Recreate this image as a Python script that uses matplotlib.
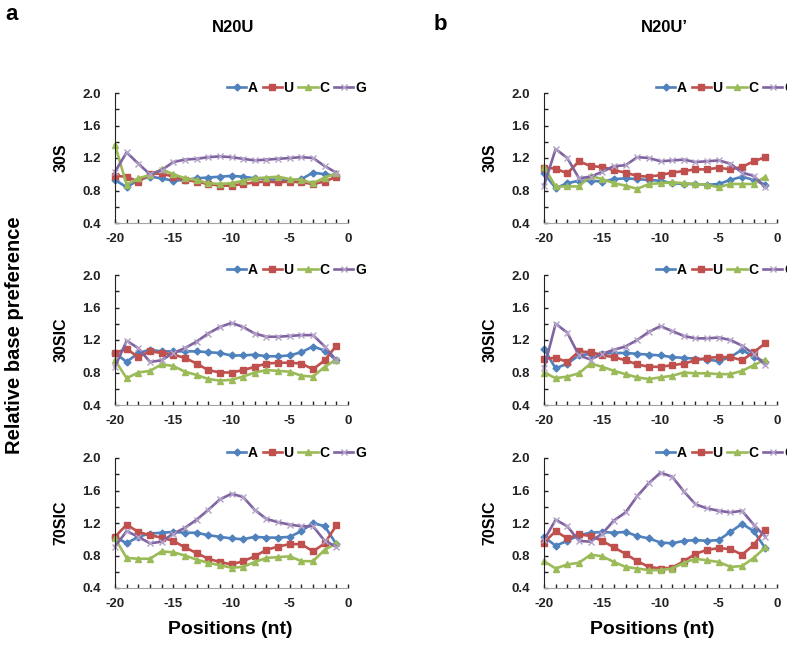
import matplotlib
matplotlib.use("Agg")
import matplotlib.pyplot as plt
from matplotlib.ticker import MultipleLocator

plt.rcParams['font.family'] = ['Liberation Sans', 'DejaVu Sans']
plt.rcParams['font.weight'] = 'bold'
plt.rcParams['axes.unicode_minus'] = False

positions = list(range(-20, 0))
bases = ["A", "U", "C", "G"]
rows = ["30S", "30SIC", "70SIC"]

# N20U (panel a)
a_30S_A = [0.93, 0.84, 0.93, 0.97, 0.95, 0.92, 0.93, 0.95, 0.96, 0.97, 0.98, 0.97, 0.95, 0.94, 0.93, 0.92, 0.94, 1.02, 1.00, 0.98]
a_30S_U = [0.98, 0.97, 0.91, 1.00, 1.01, 0.97, 0.93, 0.91, 0.88, 0.86, 0.86, 0.88, 0.90, 0.91, 0.90, 0.91, 0.90, 0.88, 0.91, 0.97]
a_30S_C = [1.36, 0.87, 0.95, 0.99, 1.06, 1.00, 0.95, 0.93, 0.89, 0.88, 0.89, 0.92, 0.95, 0.96, 0.97, 0.94, 0.93, 0.89, 0.96, 1.01]
a_30S_G = [1.03, 1.27, 1.13, 1.00, 1.05, 1.15, 1.18, 1.19, 1.21, 1.22, 1.21, 1.19, 1.17, 1.18, 1.19, 1.20, 1.21, 1.20, 1.10, 1.02]

a_30SIC_A = [1.04, 0.93, 1.04, 1.08, 1.06, 1.06, 1.06, 1.06, 1.05, 1.04, 1.01, 1.01, 1.02, 1.00, 1.00, 1.01, 1.05, 1.12, 1.07, 0.95]
a_30SIC_U = [1.04, 1.09, 0.99, 1.06, 1.04, 1.02, 0.98, 0.91, 0.83, 0.80, 0.80, 0.83, 0.87, 0.91, 0.92, 0.92, 0.91, 0.84, 0.95, 1.13]
a_30SIC_C = [0.95, 0.73, 0.80, 0.82, 0.90, 0.88, 0.81, 0.77, 0.72, 0.70, 0.71, 0.75, 0.80, 0.83, 0.82, 0.81, 0.76, 0.75, 0.87, 0.96]
a_30SIC_G = [0.87, 1.19, 1.10, 0.93, 0.95, 1.04, 1.10, 1.18, 1.28, 1.36, 1.41, 1.36, 1.28, 1.24, 1.24, 1.25, 1.26, 1.26, 1.12, 0.95]

a_70SIC_A = [1.03, 0.95, 1.03, 1.07, 1.08, 1.09, 1.08, 1.08, 1.05, 1.03, 1.01, 1.00, 1.03, 1.02, 1.02, 1.03, 1.10, 1.20, 1.16, 0.94]
a_70SIC_U = [1.03, 1.18, 1.09, 1.05, 1.02, 0.98, 0.90, 0.83, 0.76, 0.72, 0.69, 0.73, 0.79, 0.87, 0.91, 0.94, 0.94, 0.85, 0.95, 1.17]
a_70SIC_C = [1.01, 0.77, 0.76, 0.76, 0.85, 0.84, 0.80, 0.75, 0.71, 0.68, 0.65, 0.66, 0.72, 0.77, 0.78, 0.79, 0.73, 0.73, 0.87, 0.95]
a_70SIC_G = [0.91, 1.10, 1.03, 0.95, 0.97, 1.07, 1.14, 1.24, 1.36, 1.49, 1.56, 1.52, 1.36, 1.25, 1.21, 1.18, 1.16, 1.16, 0.98, 0.91]

# N20U' (panel b)
b_30S_A = [1.01, 0.83, 0.89, 0.92, 0.92, 0.91, 0.94, 0.95, 0.94, 0.93, 0.92, 0.89, 0.88, 0.88, 0.87, 0.88, 0.93, 0.97, 0.93, 0.87]
b_30S_U = [1.08, 1.07, 1.01, 1.16, 1.10, 1.09, 1.05, 1.02, 0.98, 0.97, 0.99, 1.02, 1.04, 1.06, 1.06, 1.08, 1.06, 1.09, 1.16, 1.21]
b_30S_C = [1.09, 0.85, 0.85, 0.85, 0.98, 0.94, 0.89, 0.86, 0.82, 0.88, 0.89, 0.90, 0.89, 0.88, 0.87, 0.84, 0.88, 0.88, 0.88, 0.97]
b_30S_G = [0.86, 1.31, 1.20, 0.95, 0.97, 1.03, 1.10, 1.11, 1.21, 1.20, 1.16, 1.17, 1.18, 1.15, 1.16, 1.17, 1.13, 1.02, 0.98, 0.84]

b_30SIC_A = [1.09, 0.85, 0.91, 1.01, 1.03, 1.03, 1.04, 1.04, 1.03, 1.02, 1.01, 0.99, 0.98, 0.97, 0.96, 0.94, 0.99, 1.08, 0.99, 0.93]
b_30SIC_U = [0.97, 0.98, 0.93, 1.06, 1.05, 1.01, 0.99, 0.95, 0.90, 0.87, 0.87, 0.89, 0.91, 0.95, 0.98, 0.99, 0.99, 0.95, 1.05, 1.16]
b_30SIC_C = [0.80, 0.73, 0.75, 0.79, 0.91, 0.87, 0.82, 0.78, 0.74, 0.72, 0.74, 0.76, 0.80, 0.79, 0.79, 0.78, 0.78, 0.82, 0.89, 0.96]
b_30SIC_G = [0.85, 1.40, 1.29, 1.01, 0.96, 1.03, 1.08, 1.12, 1.20, 1.30, 1.37, 1.31, 1.25, 1.22, 1.22, 1.23, 1.20, 1.13, 1.03, 0.89]

b_70SIC_A = [1.03, 0.92, 0.98, 1.05, 1.08, 1.09, 1.08, 1.09, 1.04, 1.01, 0.96, 0.95, 0.98, 0.99, 0.98, 0.99, 1.09, 1.19, 1.10, 0.89]
b_70SIC_U = [0.96, 1.10, 1.01, 1.06, 1.04, 0.98, 0.90, 0.82, 0.73, 0.66, 0.64, 0.65, 0.73, 0.82, 0.87, 0.89, 0.88, 0.81, 0.93, 1.12]
b_70SIC_C = [0.73, 0.64, 0.69, 0.71, 0.81, 0.79, 0.72, 0.66, 0.64, 0.62, 0.62, 0.64, 0.71, 0.76, 0.74, 0.72, 0.66, 0.67, 0.77, 0.90]
b_70SIC_G = [0.99, 1.24, 1.16, 0.98, 0.97, 1.07, 1.23, 1.33, 1.53, 1.69, 1.82, 1.77, 1.59, 1.43, 1.38, 1.35, 1.33, 1.35, 1.18, 1.03]

PANELS = {
    "a": [[a_30S_A, a_30S_U, a_30S_C, a_30S_G],
          [a_30SIC_A, a_30SIC_U, a_30SIC_C, a_30SIC_G],
          [a_70SIC_A, a_70SIC_U, a_70SIC_C, a_70SIC_G]],
    "b": [[b_30S_A, b_30S_U, b_30S_C, b_30S_G],
          [b_30SIC_A, b_30SIC_U, b_30SIC_C, b_30SIC_G],
          [b_70SIC_A, b_70SIC_U, b_70SIC_C, b_70SIC_G]],
}

# Excel 2007 style colours / markers
STYLE = {
    "A": dict(color="#4F81BD", marker="D", ms=3.5, mfc="#4F81BD", mec="#4F81BD"),
    "U": dict(color="#C0504D", marker="s", ms=5, mfc="#C0504D", mec="#C0504D"),
    "C": dict(color="#9BBB59", marker="^", ms=5, mfc="#9BBB59", mec="#9BBB59"),
    "G": dict(color="#8064A2", marker="x", ms=5, mfc="none", mec="#B3A2C7", mew=1.0),
}

W, H = 787, 648
fig = plt.figure(figsize=(W / 100, H / 100), dpi=100)

col_left = {"a": 115, "b": 544}
row_top = [93, 275, 458]
ax_w, ax_h = 233, 130

for key, panel in PANELS.items():
    for r, series in enumerate(panel):
        left = col_left[key] / W
        bottom = 1 - (row_top[r] + ax_h) / H
        ax = fig.add_axes([left, bottom, ax_w / W, ax_h / H])
        for base, vals in zip(bases, series):
            st = STYLE[base]
            ax.plot(positions, vals, label=base, lw=1.9, clip_on=False, **st)
        ax.set_xlim(-20, 0)
        ax.set_ylim(0.4, 2.0)
        ax.xaxis.set_major_locator(MultipleLocator(5))
        ax.xaxis.set_minor_locator(MultipleLocator(1))
        ax.yaxis.set_major_locator(MultipleLocator(0.4))
        ax.yaxis.set_minor_locator(MultipleLocator(0.2))
        ax.set_yticks([0.4, 0.8, 1.2, 1.6, 2.0])
        ax.set_yticklabels(["0.4", "0.8", "1.2", "1.6", "2.0"])
        ax.tick_params(which="both", direction="in", length=3, width=1,
                       labelsize=9.5, colors="#222222")
        ax.tick_params(axis="y", pad=10)
        ax.tick_params(axis="x", pad=7)
        for s in ["top", "right"]:
            ax.spines[s].set_visible(False)
        ax.spines["left"].set_color("#222222")
        ax.spines["bottom"].set_color("#A6A6A6")
        for lab in ax.get_xticklabels() + ax.get_yticklabels():
            lab.set_fontweight("bold")
        ax.set_ylabel(rows[r], fontsize=11.5, fontweight="bold")
        ax.yaxis.set_label_coords(-0.2, 0.5)
        ax.legend(loc="center left", bbox_to_anchor=(0.48, 1.04), ncol=4,
                  frameon=False, handlelength=1.4,
                  handletextpad=0.1, columnspacing=0.35, borderpad=0,
                  borderaxespad=0, prop={"weight": "bold", "size": 10})

fig.text(233 / W, 1 - 28 / H, "N20U", ha="center", va="center",
         fontsize=12, fontweight="bold")
fig.text(664 / W, 1 - 28 / H, "N20U\u2019", ha="center", va="center",
         fontsize=12, fontweight="bold")
fig.text(12 / W, 1 - 15 / H, "a", ha="center", va="center",
         fontsize=16, fontweight="bold")
fig.text(440 / W, 1 - 24 / H, "b", ha="center", va="center",
         fontsize=16, fontweight="bold")
fig.text(15 / W, 1 - 335 / H, "Relative base preference", rotation=90,
         ha="center", va="center", fontsize=14.5, fontweight="bold")
fig.text(230 / W, 1 - 630 / H, "Positions (nt)", ha="center", va="center",
         fontsize=14, fontweight="bold")
fig.text(652 / W, 1 - 630 / H, "Positions (nt)", ha="center", va="center",
         fontsize=14, fontweight="bold")

fig.savefig("out.png", dpi=100)
